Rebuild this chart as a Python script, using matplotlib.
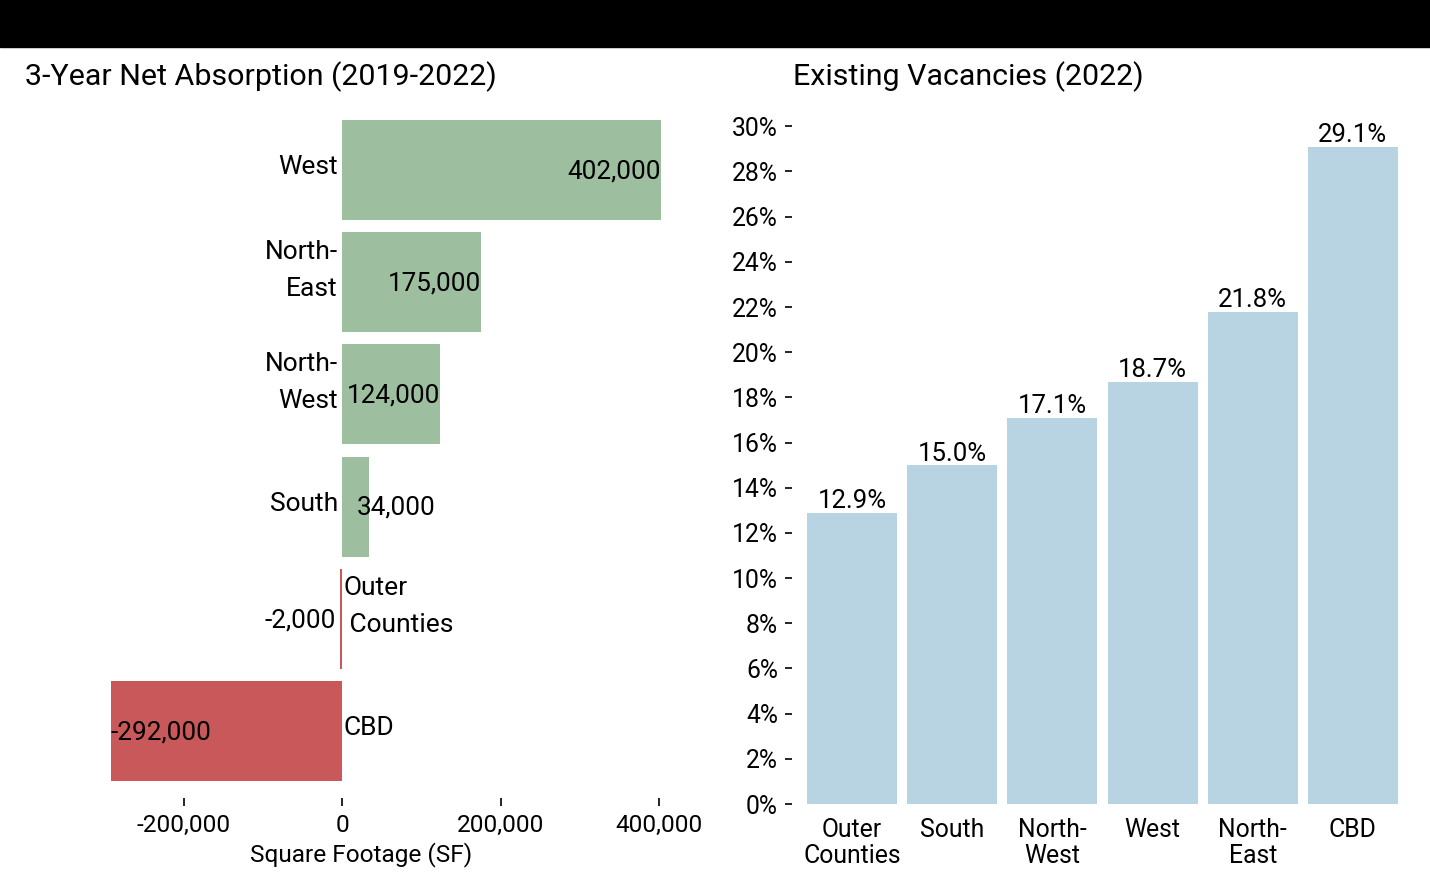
import matplotlib.pyplot as plt
from matplotlib.patches import Rectangle
from matplotlib.ticker import FuncFormatter

plt.rcParams['font.family'] = ['Roboto', 'DejaVu Sans']

# net absorption, bottom to top
abs_regions = ['CBD', 'Outer\n Counties', 'South', 'North-\nWest', 'North-\nEast', 'West']
abs_values = [-292000, -2000, 34000, 124000, 175000, 402000]
abs_ticks = [-200000, 0, 200000, 400000]

# vacancies, left to right
vac_regions = ['Outer\nCounties', 'South', 'North-\nWest', 'West', 'North-\nEast', 'CBD']
vac_values = [12.9, 15.0, 17.1, 18.7, 21.8, 29.1]
vac_ticks = list(range(0, 31, 2))

green = '#9ebf9f'
red = '#c9585a'
blue = '#b8d4e2'

W, H = 1430, 880
fig = plt.figure(figsize=(W / 100, H / 100), dpi=100)

# black band on top
fig.patches.append(Rectangle((0, 1 - 47 / H), 1, 47 / H, transform=fig.transFigure,
                             color='black', zorder=0))

# ---- left panel
px_per = 158.5 / 200000
x0 = 342
row = 112.2
ax1 = fig.add_axes([22 / W, 1 - 798 / H, (700 - 22) / W, (798 - 108) / H])
ax1.set_xlim((22 - x0) / px_per, (700 - x0) / px_per)
ax1.set_ylim(-(798 - 731) / row, 5 + (170 - 108) / row)
ypos = range(len(abs_values))
cols = [green if v >= 0 else red for v in abs_values]
ax1.barh(ypos, abs_values, height=0.89, color=cols)

for y, v, name in zip(ypos, abs_values, abs_regions):
    n = name.count('\n') + 1
    dy = (3 + 9 * (n - 1)) * 0.72
    if v >= 0:
        ax1.annotate(name, (0, y), xytext=(-3, dy), textcoords='offset points',
                     ha='right', va='center', fontsize=19, linespacing=1.7)
        ax1.annotate(f'{v:,}', (max(v, 118000), y), xytext=(0, -1), textcoords='offset points',
                     ha='right', va='center', fontsize=18.8)
    else:
        ax1.annotate(name, (0, y), xytext=(1, dy), textcoords='offset points',
                     ha='left', va='center', fontsize=19, linespacing=1.7)
        if v < -100000:
            ax1.annotate(f'{v:,}', (v, y), xytext=(0, -1), textcoords='offset points',
                         ha='left', va='center', fontsize=18.8)
        else:
            ax1.annotate(f'{v:,}', (v, y), xytext=(-3, -1), textcoords='offset points',
                         ha='right', va='center', fontsize=18.8)

ax1.set_xticks(abs_ticks)
ax1.xaxis.set_major_formatter(FuncFormatter(lambda v, p: f'{int(v):,}'))
ax1.set_yticks([])
ax1.tick_params(axis='x', length=5.5, width=1.2, labelsize=17.6, pad=6)
ax1.set_xlabel('Square Footage (SF)', fontsize=17.6, labelpad=4)
for s in ax1.spines.values():
    s.set_visible(False)
fig.text(25 / W, 1 - 77 / H, '3-Year Net Absorption (2019-2022)', fontsize=21.9,
         ha='left', va='center')

# ---- right panel
ax2 = fig.add_axes([792 / W, 1 - 804 / H, (1408 - 792) / W, (804 - 115) / H])
xpos = range(len(vac_values))
ax2.bar(xpos, vac_values, width=0.9, color=blue)
ax2.set_xlim(-0.6, 5.55)
ax2.set_ylim(0, 30.5)
for x, v in zip(xpos, vac_values):
    ax2.annotate(f'{v:.1f}%', (x, v), xytext=(0, -0.5), textcoords='offset points',
                 ha='center', va='bottom', fontsize=18.5)
ax2.set_yticks(vac_ticks)
ax2.set_yticklabels([f'{t}%' for t in vac_ticks])
ax2.set_xticks(list(xpos))
ax2.set_xticklabels(vac_regions, linespacing=1.1)
ax2.tick_params(axis='y', length=5, width=1.2, labelsize=17.8, pad=5)
ax2.tick_params(axis='x', length=0, labelsize=17.8, pad=10)
for s in ax2.spines.values():
    s.set_visible(False)
fig.text(793 / W, 1 - 77 / H, 'Existing Vacancies (2022)', fontsize=21.9,
         ha='left', va='center')

fig.savefig('out.png', dpi=100)
